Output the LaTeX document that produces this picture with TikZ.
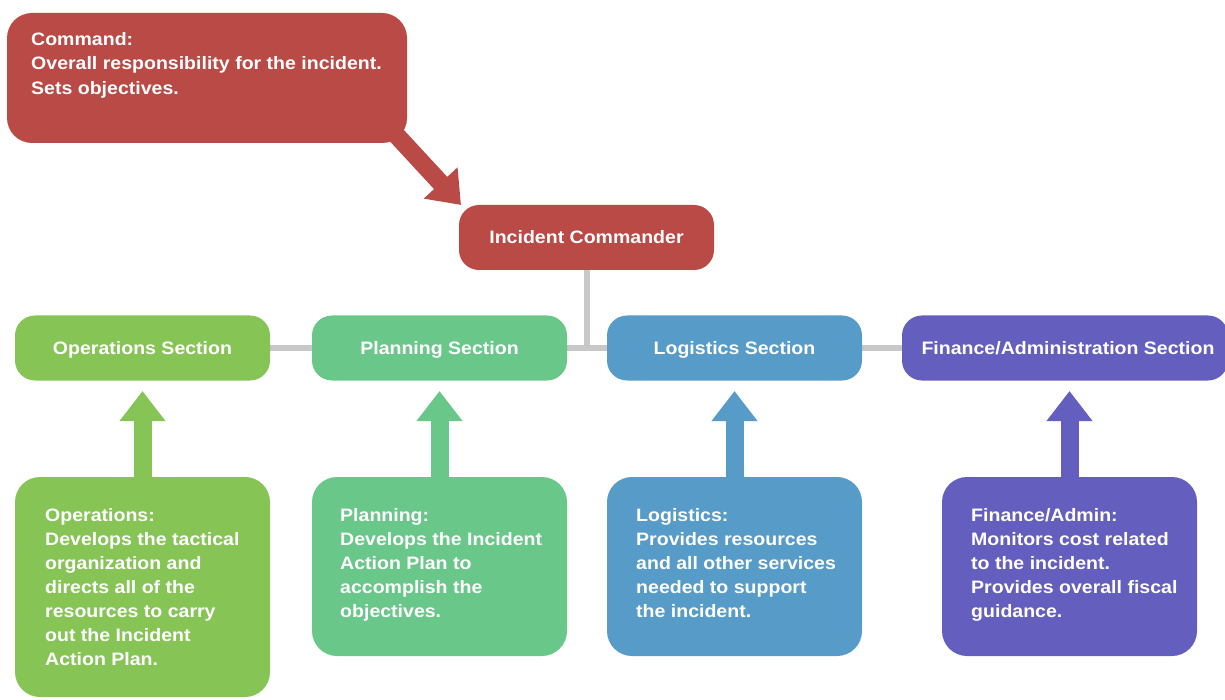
\documentclass[tikz,border=0pt]{standalone}
\usepackage{fontspec}
\setmainfont{Liberation Sans}[FakeStretch=1.085]
\usetikzlibrary{arrows.meta}
\pgfdeclarelayer{background}
\pgfsetlayers{background,main}
\definecolor{cred}{RGB}{185,74,69}
\definecolor{cops}{RGB}{134,197,85}
\definecolor{cplan}{RGB}{106,199,138}
\definecolor{clog}{RGB}{87,155,200}
\definecolor{cfin}{RGB}{100,94,190}
\definecolor{cgrey}{RGB}{200,200,200}
\begin{document}
\begin{tikzpicture}[x=1pt,y=-1pt,
  sect/.style={rounded corners=20pt, inner sep=0pt, minimum width=255pt, minimum height=65pt,
    text height=13pt, text depth=0pt,
    text=white, font=\bfseries\fontsize{18}{24}\selectfont},
  descbox/.style={rounded corners=25pt, inner sep=0pt, minimum width=255pt},
  desc/.style={anchor=north west, inner sep=0pt, align=left, text=white,
    font=\bfseries\fontsize{18}{24}\selectfont},
  link/.style={draw=cgrey, line width=6pt},
  uparrow/.style={line width=18pt, -{Triangle[length=30pt,width=44pt]}}
]
\useasboundingbox (0,0) rectangle (1225,700);

% command box
\node[fill=cred, rounded corners=25pt, minimum width=400pt, minimum height=130pt, inner sep=0pt] (cmd) at (207,78) {};
\node[desc, font=\bfseries\fontsize{18}{24.5}\selectfont] (cmdtxt) at (31,32) {Command:\\Overall responsibility for the incident.\\Sets objectives.};

% incident commander
\node[sect, fill=cred] (ic) at (586.5,237.5) {Incident Commander};

% sections
\node[sect, fill=cops] (ops) at (142.5,348) {Operations Section};
\node[sect, fill=cplan] (plan) at (439.5,348) {Planning Section};
\node[sect, fill=clog] (log) at (734.5,348) {Logistics Section};
\node[sect, fill=cfin, minimum width=326pt] (fin) at (1065,348) {\hspace*{6pt}Finance/Administration Section};

% description boxes
\node[descbox, fill=cops, minimum height=220pt] (opsd) at (142.5,587) {};
\node[descbox, fill=cplan, minimum height=179pt] (pland) at (439.5,566.5) {};
\node[descbox, fill=clog, minimum height=179pt] (logd) at (734.5,566.5) {};
\node[descbox, fill=cfin, minimum height=179pt] (find) at (1069.5,566.5) {};

\node[desc] (opst) at (45,508) {Operations:\\Develops the tactical\\organization and\\directs all of the\\resources to carry\\out the Incident\\Action Plan.};
\node[desc] (plant) at (340,508) {Planning:\\Develops the Incident\\Action Plan to\\accomplish the\\objectives.};
\node[desc] (logt) at (636,508) {Logistics:\\Provides resources\\and all other services\\needed to support\\the incident.};
\node[desc] (fint) at (971,508) {Finance/Admin:\\Monitors cost related\\to the incident.\\Provides overall fiscal\\guidance.};

% arrow tips
\coordinate (opstip) at (142.5,391);
\coordinate (plantip) at (439.5,391);
\coordinate (logtip) at (734.5,391);
\coordinate (fintip) at (1069.5,391);
\coordinate (cmdtail) at (375,112);
\coordinate (ictip) at (461,205);

\begin{pgfonlayer}{background}
  \draw[link] (ops.east) -- (fin.west);
  \draw[link] (ic.south) -- (ic.south |- ops.east);
  \draw[uparrow, draw=cred, fill=cred] (cmdtail) -- (ictip);
  \draw[uparrow, draw=cops, fill=cops] (opsd.north) -- (opstip);
  \draw[uparrow, draw=cplan, fill=cplan] (pland.north) -- (plantip);
  \draw[uparrow, draw=clog, fill=clog] (logd.north) -- (logtip);
  \draw[uparrow, draw=cfin, fill=cfin] (find.north) -- (fintip);
\end{pgfonlayer}
\end{tikzpicture}
\end{document}
